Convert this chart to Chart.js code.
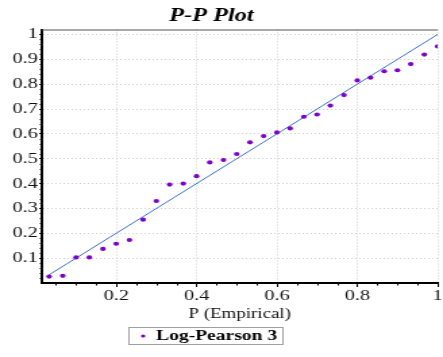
<!DOCTYPE html>
<html><head><meta charset="utf-8">
<script src="https://cdn.jsdelivr.net/npm/chart.js@4.4.0/dist/chart.umd.min.js"></script>
<style>html,body{margin:0;padding:0;background:#fff;overflow:hidden}canvas{display:block}</style>
</head><body>
<canvas id="c" width="328" height="357" style="width:443px;height:357px"></canvas>
<script>
const chartTitle = 'P-P Plot';
const xAxisTitle = 'P (Empirical)';
const seriesName = 'Log-Pearson 3';
const pEmpirical = [0.033,0.067,0.1,0.133,0.167,0.2,0.233,0.267,0.3,0.333,0.367,0.4,0.433,0.467,0.5,0.533,0.567,0.6,0.633,0.667,0.7,0.733,0.767,0.8,0.833,0.867,0.9,0.933,0.967,1.0];
const pTheoretical = [0.026,0.029,0.103,0.103,0.137,0.158,0.173,0.255,0.330,0.396,0.400,0.430,0.485,0.495,0.519,0.566,0.591,0.606,0.622,0.669,0.678,0.714,0.756,0.815,0.826,0.852,0.856,0.881,0.919,0.952];
const refLineX = [0.03, 1];
const refLineY = [0.03, 1];
const xTicks = [0.2,0.4,0.6,0.8,1];
const yTicks = [0.1,0.2,0.3,0.4,0.5,0.6,0.7,0.8,0.9,1];

const FONT = '"Liberation Serif","Times New Roman",serif';
const PURPLE = '#7c00cc';
const BLUE = '#3a70d0';

const pts = pEmpirical.map((x,i)=>({x, y: pTheoretical[i]}));
const linePts = refLineX.map((x,i)=>({x, y: refLineY[i]}));

const decor = {
  id: 'decor',
  afterDraw(chart) {
    const {ctx, chartArea: a, scales: {x, y}} = chart;
    ctx.save();
    ctx.strokeStyle = '#555'; ctx.lineWidth = 1;
    ctx.beginPath(); ctx.moveTo(a.left, a.top + 0.5); ctx.lineTo(a.right, a.top + 0.5); ctx.stroke();
    ctx.strokeStyle = '#000'; ctx.lineWidth = 1;
    ctx.beginPath();
    for (let k = 1; k <= 50; k++) {
      if (k % 5 === 0) continue;
      const py = Math.round(y.getPixelForValue(k * 0.02)) + 0.5;
      ctx.moveTo(a.left - 1.5, py); ctx.lineTo(a.left, py);
    }
    for (let k = 1; k <= 20; k++) {
      if (k % 4 === 0) continue;
      const px = Math.round(x.getPixelForValue(k * 0.05)) + 0.5;
      if (px < a.left) continue;
      ctx.moveTo(px, a.bottom); ctx.lineTo(px, a.bottom + 2.5);
    }
    ctx.stroke();
    ctx.fillStyle = '#000';
    ctx.font = 'italic bold 18px ' + FONT;
    ctx.textAlign = 'center'; ctx.textBaseline = 'middle';
    ctx.fillText(chartTitle, 156.5, 16.5);
    ctx.strokeStyle = '#a0a0a0'; ctx.lineWidth = 1;
    ctx.strokeRect(95.5, 327.5, 114, 17);
    ctx.fillStyle = chart.data.datasets[0].pointBackgroundColor;
    ctx.beginPath(); ctx.arc(106, 336, 1.6, 0, Math.PI * 2); ctx.fill();
    ctx.fillStyle = '#000';
    ctx.font = 'bold 14.5px ' + FONT;
    ctx.textAlign = 'left';
    ctx.fillText(chart.data.datasets[0].label, 115.5, 336.5);
    ctx.restore();
  }
};

new Chart(document.getElementById('c'), {
  type: 'scatter',
  data: {
    datasets: [
      { label: seriesName, data: pts, pointRadius: 2.1, pointBackgroundColor: PURPLE, pointBorderWidth: 0, borderWidth: 0, showLine: false, order: 1 },
      { label: 'ref', data: linePts, showLine: true, borderColor: BLUE, borderWidth: 1, pointRadius: 0, order: 2 }
    ]
  },
  options: {
    responsive: false,
    devicePixelRatio: 1,
    animation: false,
    layout: { padding: { top: 29.5, bottom: 34, left: 0, right: 0 } },
    plugins: { legend: { display: false }, title: { display: false }, tooltip: { enabled: false } },
    scales: {
      x: {
        type: 'linear', min: 0.015, max: 1,
        afterBuildTicks: s => { s.ticks = xTicks.map(v => ({value: v})); },
        afterFit: s => { s.height = 40; s.paddingLeft = 0; s.paddingRight = 0; },
        ticks: { callback: v => String(v), font: { family: FONT, size: 15 }, color: '#111', padding: 0, maxRotation: 0, autoSkip: false },
        grid: { color: '#cfcfcf', lineWidth: 1, tickLength: 4, tickColor: '#000', tickWidth: 1 },
        border: { display: true, color: '#000', width: 2, dash: [1, 2] },
        title: { display: true, text: xAxisTitle, font: { family: FONT, size: 14 }, color: '#111', padding: 0 }
      },
      y: {
        type: 'linear', min: 0, max: 1.02,
        afterBuildTicks: s => { s.ticks = yTicks.map(v => ({value: v})); },
        afterFit: s => { s.width = 31; },
        ticks: { callback: v => String(v), font: { family: FONT, size: 15 }, color: '#111', padding: 1, autoSkip: false },
        grid: { color: '#cfcfcf', lineWidth: 1, tickLength: 2, tickColor: '#000', tickWidth: 1 },
        border: { display: true, color: '#000', width: 2, dash: [1, 2] }
      }
    }
  },
  plugins: [decor]
});
</script>
</body></html>
